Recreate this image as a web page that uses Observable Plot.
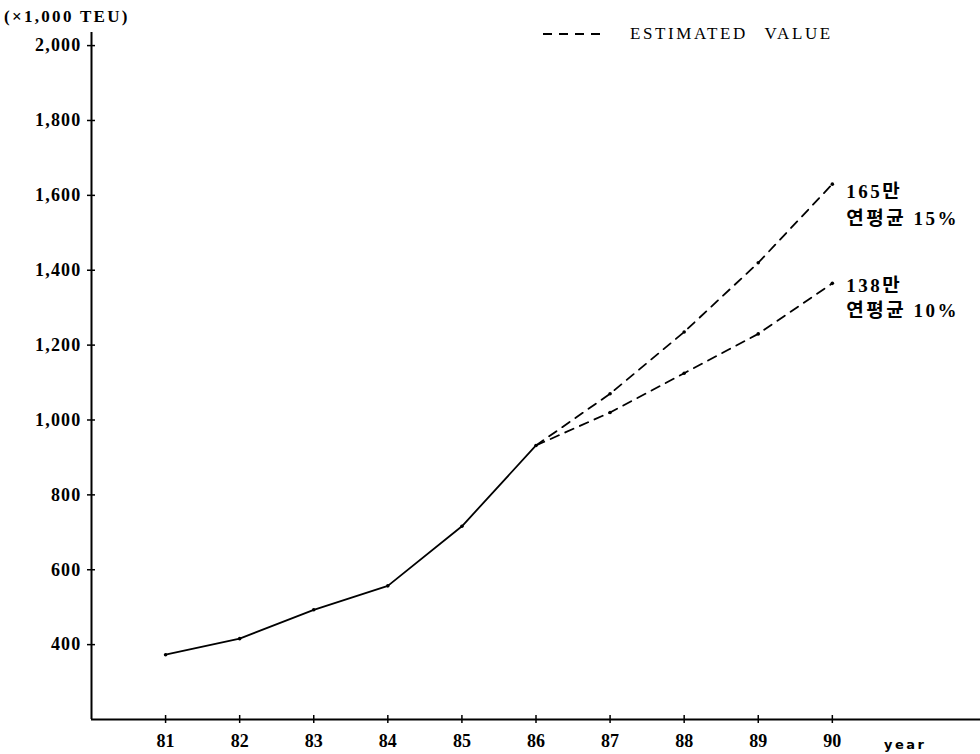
<!DOCTYPE html>
<html>
<head>
<meta charset="utf-8">
<script src="https://cdn.jsdelivr.net/npm/d3@7"></script>
<script src="https://cdn.jsdelivr.net/npm/@observablehq/plot@0.6"></script>
<style>
  html, body { margin: 0; padding: 0; background: #fff; }
  #wrap { position: relative; width: 980px; height: 754px; overflow: hidden; }
  #wrap svg { display: block; }
  .ov { position: absolute; color: #000; white-space: nowrap; line-height: 1; }
  #unit { left: 4px; top: 7px; font: bold 17px "Liberation Serif", serif; letter-spacing: 2.3px; }
  #legend { left: 543px; top: 24px; font: 17px "Liberation Serif", serif; letter-spacing: 2.6px; word-spacing: 10px; display: flex; align-items: center; }
  #legend svg { margin-right: 30px; }
  #year { left: 884px; top: 737px; font: bold 13px "DejaVu Sans", sans-serif; letter-spacing: 2.5px; }
  .yax text { letter-spacing: 1.2px; }
  .endlab text { letter-spacing: 2.5px; }
</style>
</head>
<body>
<div id="wrap">
  <div class="ov" id="unit">(×1,000 TEU)</div>
  <div class="ov" id="legend"><svg width="57" height="20"><line x1="0" y1="10" x2="57" y2="10" stroke="#000" stroke-width="2" stroke-dasharray="9,7"/></svg><span>ESTIMATED VALUE</span></div>
  <div class="ov" id="year">year</div>
</div>
<script>
// Actual container throughput (x1,000 TEU)
const years = [81, 82, 83, 84, 85, 86];
const actual = [373, 416, 493, 557, 716, 932];

// Estimated values
const estYears = [86, 87, 88, 89, 90];
const est15 = [932, 1070, 1235, 1420, 1630];
const est10 = [932, 1020, 1125, 1230, 1365];

const xTicks = [81, 82, 83, 84, 85, 86, 87, 88, 89, 90];
const yTicks = [400, 600, 800, 1000, 1200, 1400, 1600, 1800, 2000];

const endLabels = ["165만\n연평균 15%", "138만\n연평균 10%"];

const actualData = years.map((x, i) => ({x, y: actual[i]}));
const hiData = estYears.map((x, i) => ({x, y: est15[i]}));
const loData = estYears.map((x, i) => ({x, y: est10[i]}));
const allDots = [...actualData, ...hiData.slice(1), ...loData.slice(1)];

const serif = "'Liberation Serif', 'Noto Sans CJK KR', serif";

const chart = Plot.plot({
  width: 980,
  height: 754,
  marginTop: 32,
  marginBottom: 35,
  marginLeft: 91,
  marginRight: 0,
  style: {fontFamily: serif, background: "#fff", color: "#000", overflow: "visible"},
  x: {domain: [80, 92]},
  y: {domain: [200, 2035]},
  marks: [
    Plot.ruleY([200], {stroke: "#000", strokeWidth: 2}),
    Plot.ruleX([80], {stroke: "#000", strokeWidth: 2}),
    Plot.axisX({ticks: xTicks, tickSize: 8, dy: -4, tickPadding: 11, tickFormat: d => String(d),
                fontSize: 18, fontWeight: "bold", label: null, stroke: "#000", strokeWidth: 1.5}),
    Plot.axisY({ticks: yTicks, tickSize: 8, dx: 4, tickPadding: 6, tickFormat: d3.format(","),
                fontSize: 18, fontWeight: "bold", label: null, stroke: "#000", strokeWidth: 1.5,
                className: "yax"}),
    Plot.line(actualData, {x: "x", y: "y", stroke: "#000", strokeWidth: 1.8}),
    Plot.line(hiData, {x: "x", y: "y", stroke: "#000", strokeWidth: 1.8, strokeDasharray: "9,7"}),
    Plot.line(loData, {x: "x", y: "y", stroke: "#000", strokeWidth: 1.8, strokeDasharray: "9,7"}),
    Plot.dot(allDots, {x: "x", y: "y", r: 1.8, fill: "#000"}),
    Plot.text([hiData[hiData.length - 1]], {x: "x", y: "y", text: () => endLabels[0], textAnchor: "start",
      lineAnchor: "top", lineHeight: 1.4, dx: 14, dy: -5, fontSize: 19, fontWeight: "bold", fill: "#000",
      className: "endlab"}),
    Plot.text([loData[loData.length - 1]], {x: "x", y: "y", text: () => endLabels[1], textAnchor: "start",
      lineAnchor: "top", lineHeight: 1.35, dx: 14, dy: -10, fontSize: 19, fontWeight: "bold", fill: "#000",
      className: "endlab"})
  ]
});
document.getElementById("wrap").prepend(chart);
</script>
</body>
</html>
